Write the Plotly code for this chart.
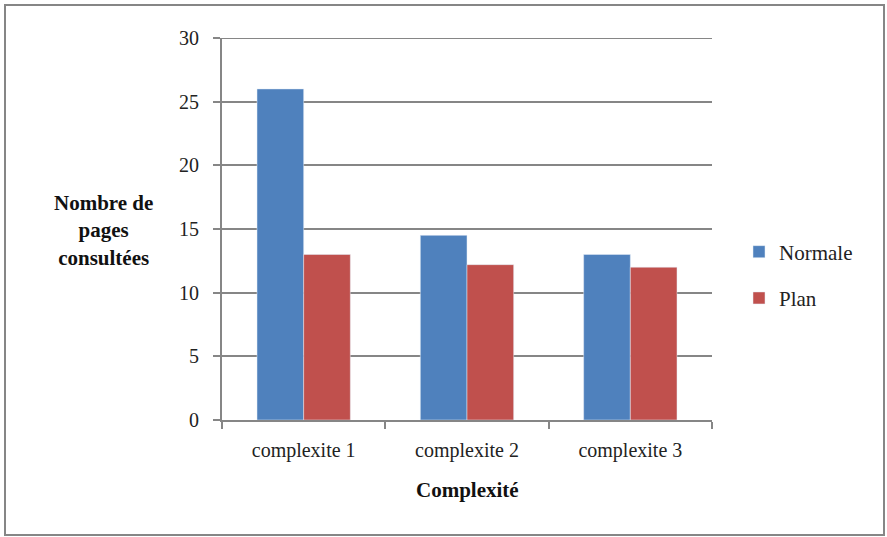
import plotly.graph_objects as go

categories = ["complexite 1", "complexite 2", "complexite 3"]
normale = [26, 14.5, 13]
plan = [13, 12.2, 12]
y_ticks = [0, 5, 10, 15, 20, 25, 30]

W, H = 887, 537
L, R, T, B = 222, 175, 38, 117
pw, ph = W - L - R, H - T - B

def px(x):
    return (x - L) / pw

def py(y):
    return (H - B - y) / ph

grey = "#868686"
font = "Liberation Serif"

fig = go.Figure()
fig.add_trace(go.Bar(x=categories, y=normale, name="Normale", marker_color="#4F81BD",
                     legendgroup="a"))
fig.add_trace(go.Bar(x=categories, y=plan, name="Plan", marker_color="#C0504D",
                     legendgroup="b"))

fig.update_layout(
    width=W, height=H,
    margin=dict(l=L, r=R, t=T, b=B, autoexpand=False),
    paper_bgcolor="white", plot_bgcolor="white",
    barmode="group", bargap=1.5 / 3.5, bargroupgap=0,
    font=dict(family=font, size=20, color="#222"),
    showlegend=True,
    legend=dict(x=px(739), y=py(275), xanchor="left", yanchor="middle",
                font=dict(size=21, family=font), tracegroupgap=16,
                itemwidth=30, bgcolor="rgba(0,0,0,0)"),
    xaxis=dict(showline=True, linecolor=grey, linewidth=2, ticks="outside",
               tickson="boundaries", ticklen=7, tickwidth=2, tickcolor=grey,
               ticklabelstandoff=11,
               tickfont=dict(size=20, family=font), fixedrange=True),
    yaxis=dict(range=[0, 30], tickvals=y_ticks, showline=True, linecolor=grey,
               linewidth=2, showgrid=True, gridcolor=grey, gridwidth=2,
               ticks="outside", ticklen=7, tickwidth=2, tickcolor=grey,
               ticklabelstandoff=10,
               tickfont=dict(size=20, family=font), zeroline=False),
)

# plotly skips the gridline at the top end of the range, add it back
fig.add_shape(type="line", xref="paper", yref="y", x0=0, x1=1,
              y0=y_ticks[-1], y1=y_ticks[-1], line=dict(color=grey, width=2),
              layer="below")

fig.add_annotation(x=px(103), y=py(231), xref="paper", yref="paper",
                   xanchor="center", yanchor="middle",
                   text="<b>Nombre de<br>pages<br>consultées</b>", showarrow=False,
                   font=dict(size=21, family=font, color="#111"), align="center")
fig.add_annotation(x=px(467), y=py(490), xref="paper", yref="paper",
                   xanchor="center", yanchor="middle",
                   text="<b>Complexité</b>", showarrow=False,
                   font=dict(size=21, family=font, color="#111"))

fig.add_shape(type="rect", xref="paper", yref="paper",
              x0=px(5), x1=px(884), y0=py(535), y1=py(5),
              line=dict(color=grey, width=2), layer="below")

fig.write_html("out.html", config={"displayModeBar": False},
               post_script="document.body.style.margin='0';")
